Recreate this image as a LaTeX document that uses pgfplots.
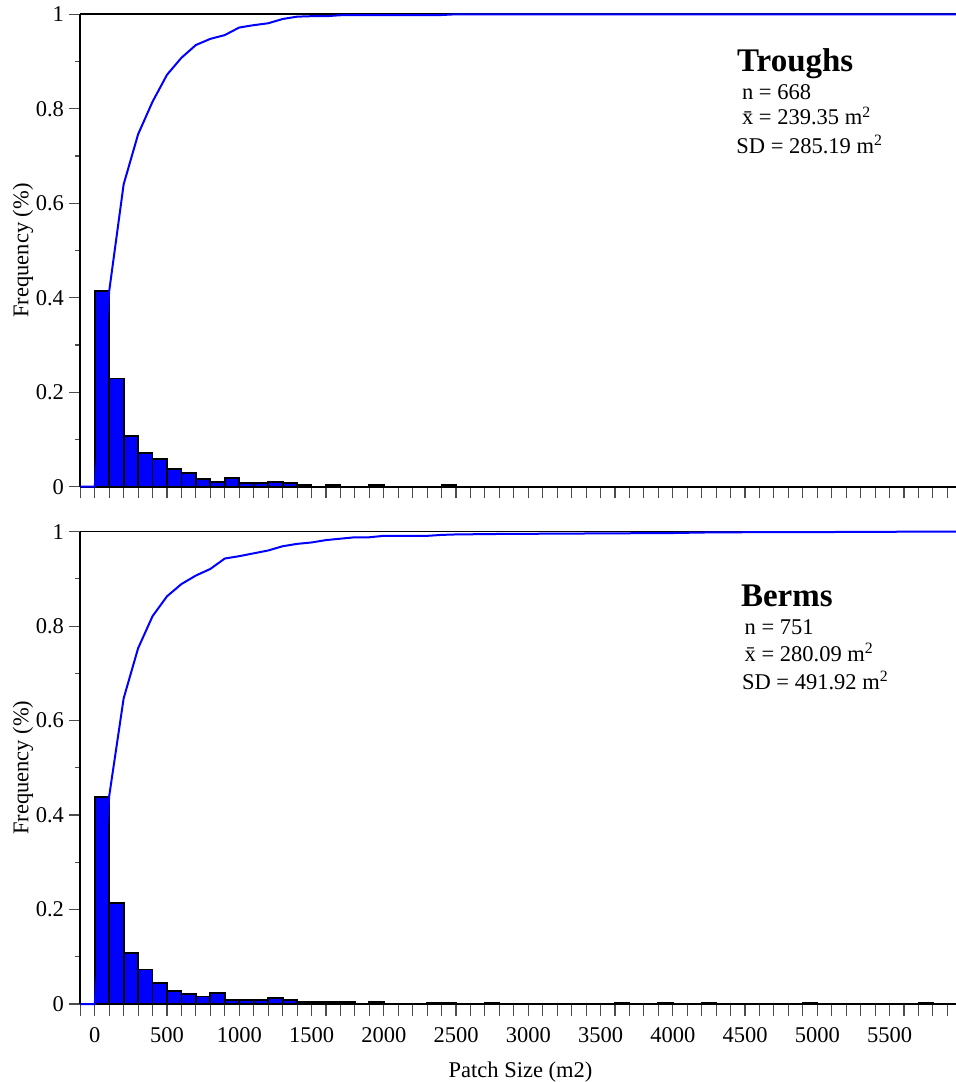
\documentclass[border=0pt]{standalone}
\usepackage{fontspec}
\setmainfont{Liberation Serif}
\usepackage{pgfplots}
\pgfplotsset{compat=1.18}
\newcommand\tf{\fontsize{11.25}{13.5}\selectfont}
\newcommand\bigbf{\fontsize{16.5}{19}\selectfont\bfseries}
\pgfplotsset{
  myaxis/.style={
    scale only axis, width=437.85pt, height=236.2pt,
    xmin=-100, xmax=5960, ymin=0, ymax=1,
    axis x line=bottom, axis y line=left,
    axis line style={-, line width=0.85pt, black},
    tick align=outside,
    xtick={-100,0,...,5900},
    ytick={0,0.2,0.4,0.6,0.8,1},
    yticklabels={0,0.2,0.4,0.6,0.8,1},
    minor ytick={0.1,0.3,0.5,0.7,0.9},
    major tick length=5.8pt,
    minor tick length=2.7pt,
    tick style={black!70, line width=0.55pt},
    every tick label/.append style={font=\tf},
    yticklabel style={inner xsep=2.2pt},
    xticklabel style={yshift=-2.5pt},
    ylabel={Frequency (\%)},
    ylabel style={at={(axis description cs:-0.0654,0.5)}, anchor=center, font=\tf},
    clip=false,
  },
  barstyle/.style={ybar, bar width=100, bar shift=0pt, fill=blue, draw=black, line width=0.9pt},
  cdfstyle/.style={blue, line width=1pt, mark=none},
}
\begin{document}
\begin{tikzpicture}
\begin{axis}[myaxis, at={(0,0)}, anchor=south west, xticklabels={}]
\addplot[barstyle] coordinates {
(50,0.414) (150,0.229) (250,0.107) (350,0.072) (450,0.059) (550,0.038)
(650,0.029) (750,0.0155) (850,0.010) (950,0.018) (1050,0.007) (1150,0.007)
(1250,0.010) (1350,0.008) (1450,0.003) (1650,0.003) (1950,0.003) (2450,0.003)};
\draw[line width=0.85pt] (rel axis cs:0,1) -- (rel axis cs:1,1);
\addplot[cdfstyle] coordinates {
(-100,0) (0,0) (100,0.414) (200,0.640) (300,0.746) (400,0.815) (500,0.872)
(600,0.908) (700,0.935) (800,0.948) (900,0.956) (1000,0.972) (1100,0.977)
(1200,0.981) (1300,0.990) (1400,0.995) (1500,0.996) (1600,0.996) (1700,0.998)
(1800,0.998) (1900,0.998) (2000,0.9985) (2400,0.9985) (2500,1) (5960,1)};
\node[anchor=base west, font=\bigbf, inner sep=0pt] at (rel axis cs:0.7496,0.8785) {Troughs};
\node[anchor=base west, font=\tf, inner sep=0pt] at (rel axis cs:0.7553,0.8207) {n = 668};
\node[anchor=base west, font=\tf, inner sep=0pt] at (rel axis cs:0.7553,0.7657) {\={x} = 239.35 m\textsuperscript{2}};
\node[anchor=base west, font=\tf, inner sep=0pt] at (rel axis cs:0.7488,0.7058) {SD = 285.19 m\textsuperscript{2}};
\end{axis}
\begin{axis}[myaxis, at={(0,-258.65pt)}, anchor=south west,
  xticklabel={\pgfmathtruncatemacro\v{\tick}\pgfmathtruncatemacro\r{mod(\v,500)==0}\ifnum\r=1 \v\fi},
  xlabel={Patch Size (m2)},
  xlabel style={at={(axis description cs:0.5027,-0.1433)}, anchor=center, font=\tf}]
\addplot[barstyle] coordinates {
(50,0.4375) (150,0.214) (250,0.108) (350,0.073) (450,0.044) (550,0.0275)
(650,0.021) (750,0.016) (850,0.024) (950,0.008) (1050,0.009) (1150,0.008)
(1250,0.012) (1350,0.008) (1450,0.005) (1550,0.005) (1650,0.005) (1750,0.005)
(1950,0.005) (2350,0.003) (2450,0.003) (2750,0.003) (3650,0.003) (3950,0.003)
(4250,0.003) (4950,0.003) (5750,0.003)};
\draw[line width=0.85pt] (rel axis cs:0,1) -- (rel axis cs:1,1);
\addplot[cdfstyle] coordinates {
(-100,0) (0,0) (100,0.44) (200,0.647) (300,0.753) (400,0.821) (500,0.863)
(600,0.889) (700,0.907) (800,0.921) (900,0.943) (1000,0.948) (1100,0.954)
(1200,0.960) (1300,0.969) (1400,0.974) (1500,0.977) (1600,0.982) (1700,0.985)
(1800,0.988) (1900,0.988) (2000,0.991) (2300,0.991) (2400,0.993) (2500,0.994)
(2800,0.995) (3700,0.9965) (4000,0.997) (4300,0.9985) (5000,0.999) (5800,1) (5960,1)};
\node[anchor=base west, font=\bigbf, inner sep=0pt] at (rel axis cs:0.7541,0.8410) {Berms};
\node[anchor=base west, font=\tf, inner sep=0pt] at (rel axis cs:0.7583,0.7832) {n = 751};
\node[anchor=base west, font=\tf, inner sep=0pt] at (rel axis cs:0.7583,0.7246) {\={x} = 280.09 m\textsuperscript{2}};
\node[anchor=base west, font=\tf, inner sep=0pt] at (rel axis cs:0.7553,0.6662) {SD = 491.92 m\textsuperscript{2}};
\end{axis}
\pgfresetboundingbox
\path (-40.15pt,-297.65pt) rectangle (437.85pt,243.35pt);
\end{tikzpicture}
\end{document}
